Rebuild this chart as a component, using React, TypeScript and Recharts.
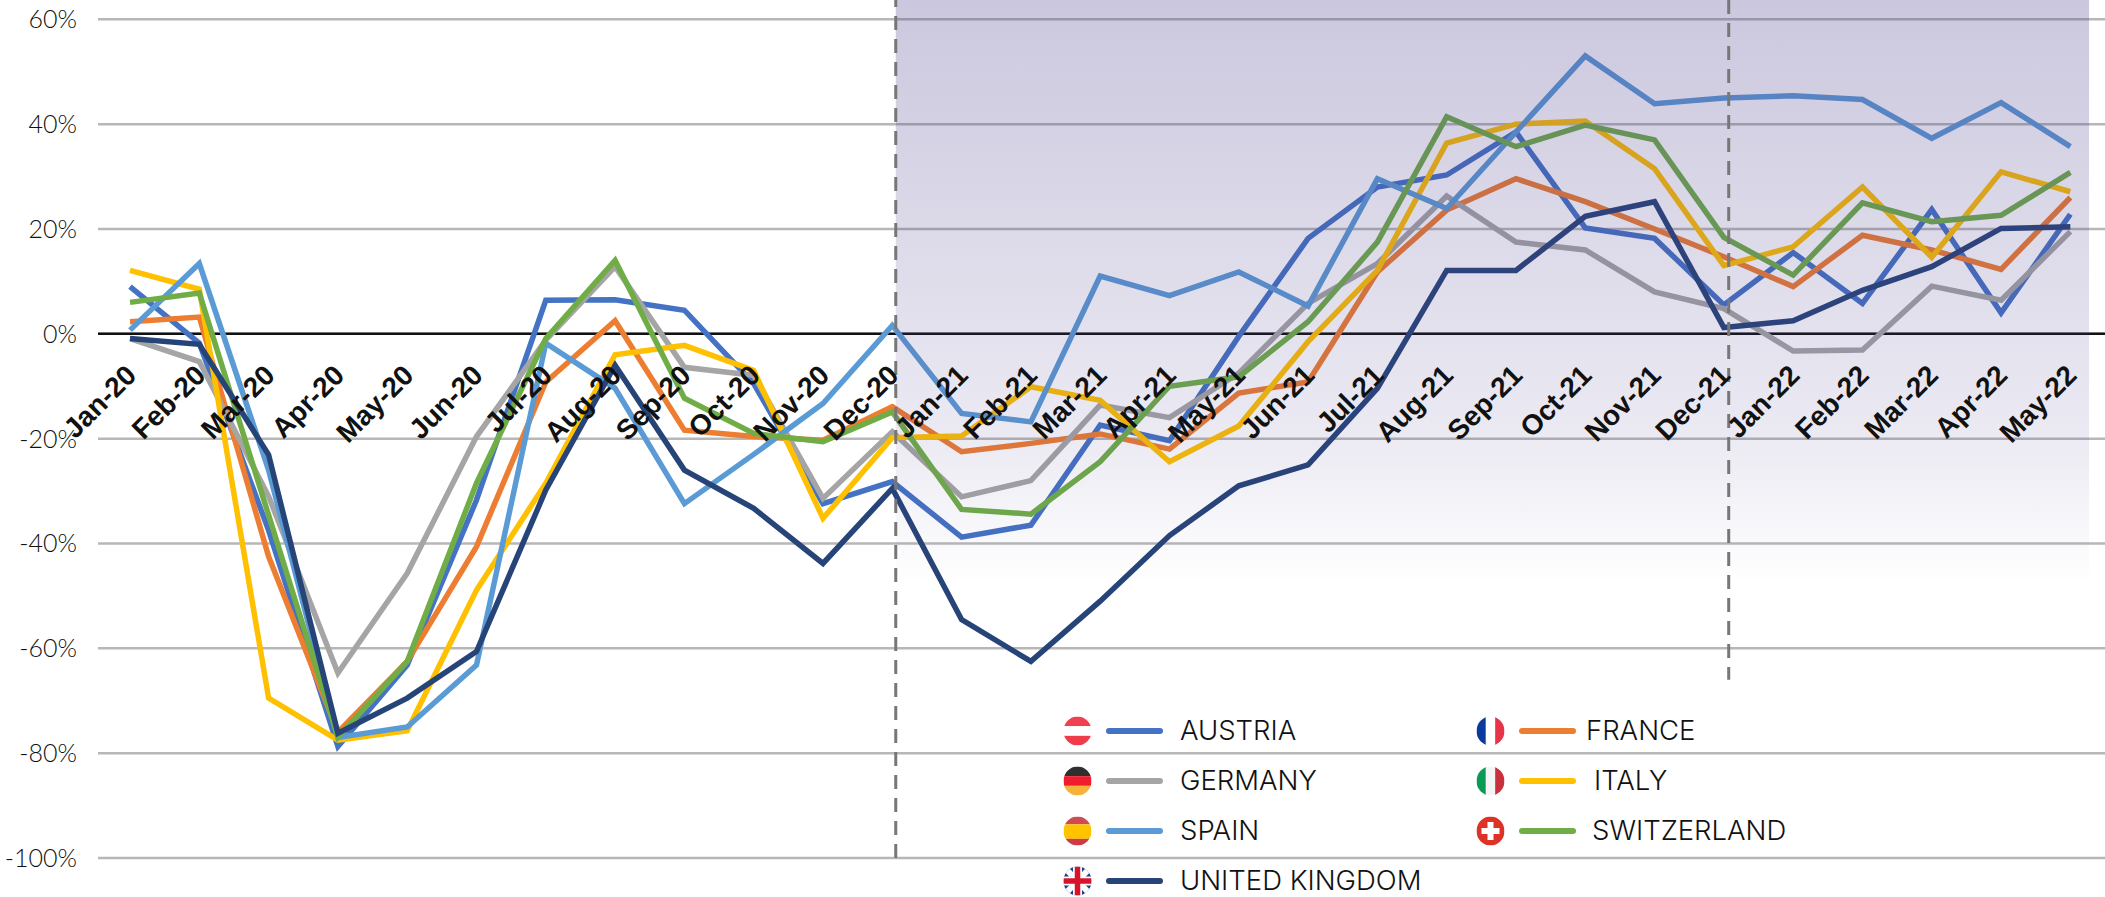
import { LineChart, Line, XAxis, YAxis, CartesianGrid, ReferenceLine, ReferenceArea } from "recharts";

const months = [
  "Jan-20", "Feb-20", "Mar-20", "Apr-20", "May-20", "Jun-20", "Jul-20", "Aug-20", "Sep-20", "Oct-20", "Nov-20", "Dec-20",
  "Jan-21", "Feb-21", "Mar-21", "Apr-21", "May-21", "Jun-21", "Jul-21", "Aug-21", "Sep-21", "Oct-21", "Nov-21", "Dec-21",
  "Jan-22", "Feb-22", "Mar-22", "Apr-22", "May-22",
];

const austria = [9, -1.8, -37.5, -78.7, -63.2, -31.7, 6.4, 6.5, 4.5, -9.5, -32.4, -28.2, -38.8, -36.5, -17.4, -20.4, -0.5, 18.2, 28, 30.3, 38.5, 20.2, 18.2, 5.5, 15.5, 5.8, 23.7, 4, 22.8];
const france = [2.3, 3.2, -42.5, -76, -62.5, -40.6, -9.2, 2.5, -18.4, -19.6, -20.3, -13.9, -22.5, -20.9, -19.1, -22, -11.3, -9.2, 11.8, 23.6, 29.6, 25.2, 20, 14.7, 9, 18.8, 16, 12.3, 26];
const germany = [-0.9, -5.3, -31, -64.7, -45.7, -19.6, -1.2, 12.8, -6.4, -7.9, -31.4, -18.7, -31.1, -28, -13.6, -16, -7.5, 5.8, 13.4, 26.3, 17.5, 16, 8, 4.8, -3.3, -3.1, 9.1, 6.4, 19.5];
const italy = [12.1, 8.5, -69.5, -77.5, -75.7, -48.9, -28.5, -4, -2.2, -7, -35.2, -19.8, -19.5, -10.1, -12.7, -24.4, -17.6, -1.5, 12.1, 36.4, 40, 40.6, 31.5, 13, 16.6, 28, 14.6, 30.9, 27.1];
const spain = [0.7, 13.4, -26, -77, -75, -63.2, -1.8, -10.4, -32.4, -23, -13.3, 1.6, -15.2, -16.8, 11, 7.3, 11.8, 5.3, 29.6, 23.9, 38.5, 53, 43.9, 45, 45.4, 44.7, 37.3, 44.1, 35.7];
const switzerland = [6, 7.8, -34.6, -77, -62.5, -28.5, -0.9, 14, -12.3, -19, -20.6, -14.9, -33.5, -34.4, -24.4, -10, -8.2, 2.3, 17.5, 41.4, 35.7, 39.8, 37, 18.4, 11.2, 25, 21.4, 22.6, 30.8];
const uk = [-0.9, -2, -23.1, -76.2, -69.5, -60.6, -29.8, -6, -26, -33.3, -43.8, -29.5, -54.5, -62.5, -51, -38.5, -29, -25, -10.4, 12.1, 12.1, 22.4, 25.2, 1.2, 2.5, 8.3, 12.8, 20.1, 20.4];

const yTicks = [60, 40, 20, 0, -20, -40, -60, -80, -100];

const seriesList = [
  { key: "austria", values: austria, color: "#4472C4" },
  { key: "france", values: france, color: "#ED7D31" },
  { key: "germany", values: germany, color: "#A5A5A5" },
  { key: "italy", values: italy, color: "#FFC000" },
  { key: "spain", values: spain, color: "#5B9BD5" },
  { key: "switzerland", values: switzerland, color: "#70AD47" },
  { key: "uk", values: uk, color: "#264478" },
];

const chartData = months.map((m, i) => {
  const row: Record<string, number | string> = { idx: i, month: m };
  seriesList.forEach((s) => {
    row[s.key] = s.values[i];
  });
  return row;
});

const MonthTick = (props: any) => {
  const { x, y, payload } = props;
  // labels sit under the zero line, not at the bottom of the plot
  return (
    <text
      transform={`translate(${x + 8},${y - 489}) rotate(-45)`}
      textAnchor="end"
      fontFamily="Liberation Sans"
      fontWeight="bold"
      fontSize={28}
      fill="#111"
    >
      {months[payload.value]}
    </text>
  );
};

const flagBands: Record<string, { dir: "h" | "v"; colors: string[]; sizes?: number[] }> = {
  AUSTRIA: { dir: "h", colors: ["#EF4150", "#FFFFFF", "#EF3B4A"] },
  FRANCE: { dir: "v", colors: ["#0A3A9E", "#FFFFFF", "#E8344A"] },
  GERMANY: { dir: "h", colors: ["#2F2F2F", "#EE1C2E", "#F7B23C"] },
  ITALY: { dir: "v", colors: ["#0A9A56", "#F4F4F4", "#C9303E"] },
  SPAIN: { dir: "h", colors: ["#CF4A55", "#FFC400", "#CF3A48"], sizes: [0.27, 0.5, 0.23] },
  SWITZERLAND: { dir: "h", colors: ["#DD3226"] },
  "UNITED KINGDOM": { dir: "h", colors: ["#FFFFFF"] },
};

const Flag = ({ name, cx, cy }: { name: string; cx: number; cy: number }) => {
  const f = flagBands[name];
  const id = "clip-" + name.replace(" ", "-");
  const w = 28;
  const h = 29;
  const left = cx - w / 2;
  const top = cy - h / 2;
  let pos = 0;
  return (
    <g clipPath={`url(#${id})`}>
      <clipPath id={id}>
        <ellipse cx={cx} cy={cy} rx={14} ry={14.5} />
      </clipPath>
      {f.colors.map((c, i) => {
        const share = f.sizes ? f.sizes[i] : 1 / f.colors.length;
        const start = pos;
        pos += share;
        return f.dir === "h" ? (
          <rect key={i} x={left} y={top + start * h} width={w} height={share * h} fill={c} />
        ) : (
          <rect key={i} x={left + start * w} y={top} width={share * w} height={h} fill={c} />
        );
      })}
      {name === "SWITZERLAND" && (
        <path d={`M${cx - 3} ${cy - 9}h6v6h6v6h-6v6h-6v-6h-6v-6h6z`} fill="#fff" />
      )}
      {name === "UNITED KINGDOM" && (
        <g>
          <rect x={left} y={top} width={w} height={h} fill="#1F3F8F" />
          <path d={`M${left} ${top}L${left + w} ${top + h}M${left + w} ${top}L${left} ${top + h}`} stroke="#fff" strokeWidth={6} />
          <path d={`M${cx} ${top}V${top + h}M${left} ${cy}H${left + w}`} stroke="#fff" strokeWidth={9} />
          <path d={`M${cx} ${top}V${top + h}M${left} ${cy}H${left + w}`} stroke="#D8142C" strokeWidth={5.5} />
        </g>
      )}
    </g>
  );
};

const legendRows = [
  { name: "AUSTRIA", color: "#4472C4", col: 0, row: 0, textX: 1180 },
  { name: "FRANCE", color: "#ED7D31", col: 1, row: 0, textX: 1586 },
  { name: "GERMANY", color: "#A5A5A5", col: 0, row: 1, textX: 1180 },
  { name: "ITALY", color: "#FFC000", col: 1, row: 1, textX: 1594 },
  { name: "SPAIN", color: "#5B9BD5", col: 0, row: 2, textX: 1180 },
  { name: "SWITZERLAND", color: "#70AD47", col: 1, row: 2, textX: 1592 },
  { name: "UNITED KINGDOM", color: "#264478", col: 0, row: 3, textX: 1180 },
];

const LegendPanel = () => (
  <svg width={2105} height={897} style={{ position: "absolute", left: 0, top: 0, pointerEvents: "none" }}>
    {legendRows.map((r) => {
      const cy = 731 + r.row * 50;
      const flagX = r.col === 0 ? 1077.5 : 1490.5;
      const lineX = r.col === 0 ? 1109 : 1522;
      return (
        <g key={r.name}>
          <Flag name={r.name} cx={flagX} cy={cy} />
          <line x1={lineX} x2={lineX + 51} y1={cy} y2={cy} stroke={r.color} strokeWidth={6} strokeLinecap="round" />
          <text x={r.textX} y={cy + 9} fontFamily="Inter" fontWeight={300} fontSize={27.5} fill="#111">
            {r.name}
          </text>
        </g>
      );
    })}
  </svg>
);

export default function App() {
  return (
    <div style={{ position: "absolute", left: 0, top: 0, width: 2105, height: 897, background: "#fff", overflow: "hidden" }}>
      <LineChart
        width={2105}
        height={897}
        data={chartData}
        margin={{ top: 0, right: 0, bottom: 38, left: 0 }}
      >
        <defs>
          <linearGradient id="shade" x1="0" y1="0" x2="0" y2="1">
            <stop offset="0" stopColor="#4C3E8D" stopOpacity={0.29} />
            <stop offset="0.51" stopColor="#4C3E8D" stopOpacity={0.11} />
            <stop offset="0.68" stopColor="#4C3E8D" stopOpacity={0} />
          </linearGradient>
        </defs>
        <CartesianGrid vertical={false} stroke="#B7B7B7" strokeWidth={2.5} horizontalValues={yTicks} />
        <YAxis
          type="number"
          domain={[-100, 63.68]}
          ticks={yTicks}
          width={98}
          axisLine={false}
          tickLine={false}
          tickMargin={15}
          tickFormatter={(v: number) => `${v}%`}
          tick={{ fontFamily: "Lato", fontWeight: 300, fontSize: 25, fill: "#111" }}
        />
        <ReferenceLine y={0} stroke="#111" strokeWidth={2.5} />
        {seriesList.map((s) => (
          <Line
            key={s.key}
            dataKey={s.key}
            stroke={s.color}
            strokeWidth={5.5}
            strokeLinejoin="miter"
            dot={false}
            isAnimationActive={false}
          />
        ))}
        <XAxis
          type="number"
          dataKey="idx"
          domain={[-0.462, 28.5]}
          ticks={months.map((_, i) => i)}
          interval={0}
          height={1}
          axisLine={false}
          tickLine={false}
          tick={<MonthTick />}
        />
        {/* the band tints the lines too, so it has to sit above them */}
        <ReferenceArea
          x1={11.05}
          x2={28.27}
          y1={63.68}
          y2={-100}
          fill="url(#shade)"
          fillOpacity={1}
          stroke="none"
          zIndex={450}
        />
        <ReferenceLine x={11.05} stroke="#777" strokeWidth={3} strokeDasharray="14 9" zIndex={460} />
        <ReferenceLine
          segment={[
            { x: 23.07, y: 63.68 },
            { x: 23.07, y: -66 },
          ]}
          stroke="#777"
          strokeWidth={3}
          strokeDasharray="14 9"
          zIndex={460}
        />
      </LineChart>
      <LegendPanel />
    </div>
  );
}
